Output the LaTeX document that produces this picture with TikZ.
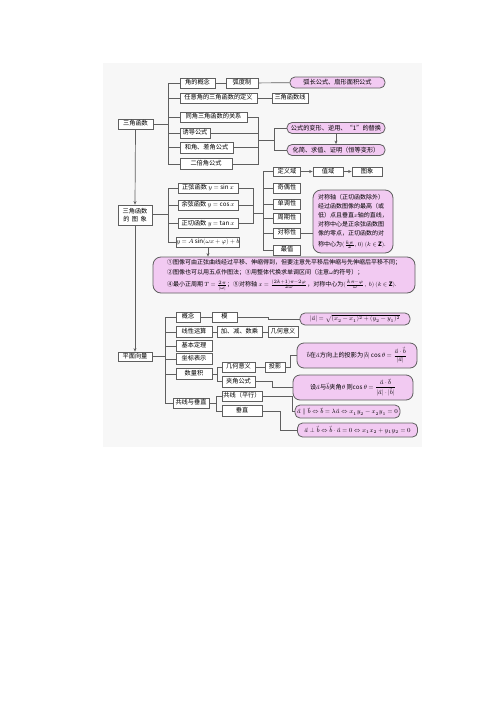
\documentclass[tikz,border=0pt]{standalone}
\usepackage{amsmath}
\usepackage{unicode-math}
\setmainfont{Noto Sans CJK SC}
\setmathfont{Latin Modern Math}
\usetikzlibrary{arrows.meta}
\definecolor{pinkfill}{RGB}{242,202,242}
\definecolor{edge}{RGB}{95,95,95}
\newcommand\fs{\fontsize{6.2}{7.5}\selectfont}
\begin{document}
\begin{tikzpicture}[x=1pt,y=-1pt,
 box/.style={draw=edge,line width=0.8pt,fill=white,inner sep=0pt,font=\fs,minimum height=10pt,text height=4.8pt,text depth=1.2pt},
 pill/.style={draw=edge,line width=0.8pt,fill=pinkfill,rounded corners=5pt,inner sep=0pt,font=\fs,minimum height=11pt},
 ln/.style={draw=edge,line width=0.7pt},
 arr/.style={ln,-{Stealth[length=3.5pt,width=3pt]}}]
\useasboundingbox (0,0) rectangle (500,707);
\fill[black!3] (103,63) rectangle (422,447);

% ---------- group 1 ----------
\node[box,minimum width=35pt] (t1) at (135.5,124) {三角函数};
\node[box,minimum width=35pt] (a1) at (197.5,83) {角的概念};
\node[box,minimum width=32pt] (a2) at (242,83) {弧度制};
\node[pill,minimum width=95pt] (p1) at (337.5,82.5) {弧长公式、扇形面积公式};
\node[box,minimum width=77pt] (a3) at (218.5,98) {任意角的三角函数的定义};
\node[box,minimum width=36pt] (a4) at (290,98) {三角函数线};
\node[box,minimum width=67pt] (a5) at (213.5,117) {同角三角函数的关系};
\node[box,minimum width=30pt] (a6) at (195,133) {诱导公式};
\node[box,minimum width=53pt,minimum height=11pt] (a7) at (206.5,147.5) {和角、差角公式};
\node[box,minimum width=52pt,minimum height=11pt] (a8) at (206,164) {二倍角公式};
\node[pill,minimum width=98pt] (p2) at (336,128) {公式的变形、逆用、“1”的替换};
\node[pill,minimum width=98pt] (p3) at (336,150) {化简、求值、证明（恒等变形）};

\coordinate (br1) at (168,124);
\coordinate (br2) at (258,140);
\coordinate (br3) at (274,140);
\draw[ln] (t1.east) -- (br1);
\foreach \n in {a1,a3,a5,a6,a7,a8} \draw[ln] (\n.west) -| (br1);
\draw[ln] (a1) -- (a2);
\draw[ln] (a2) -- (p1);
\draw[ln] (a3) -- (a4);
\foreach \n in {a5,a6,a7,a8} \draw[ln] (\n.east) -| (br2);
\draw[ln] (br2) -- (br3);
\draw[ln] (p2.west) -| (br3);
\draw[ln] (p3.west) -| (br3);
\draw[arr] (p2) -- (p3);

% ---------- group 2 ----------
\node[box,minimum width=34pt,minimum height=20pt,text height=,text depth=,align=center,font=\fontsize{6.2}{8.5}\selectfont] (t2) at (135,215) {三角函数\\的\,\ 图\,\ 象};
\node[box,minimum width=60pt] (b1) at (208,188) {正弦函数 $y=\sin x$};
\node[box,minimum width=60pt] (b2) at (208,205) {余弦函数 $y=\cos x$};
\node[box,minimum width=60pt] (b3) at (208,223.5) {正切函数 $y=\tan x$};
\node[box,minimum width=60pt] (b4) at (208,242) {$y=A\sin(\omega x+\varphi)+b$};
\node[box,minimum width=27pt,minimum height=9pt] (c1) at (287,171.5) {定义域};
\node[box,minimum width=30pt,minimum height=9pt] (c2) at (328,171.5) {值域};
\node[box,minimum width=30pt,minimum height=9pt] (c3) at (367,171.5) {图象};
\node[box,minimum width=27pt] (c4) at (287,188) {奇偶性};
\node[box,minimum width=27pt] (c5) at (287,204) {单调性};
\node[box,minimum width=27pt] (c6) at (287,218) {周期性};
\node[box,minimum width=27pt] (c7) at (287,233) {对称性};
\node[box,minimum width=27pt] (c8) at (287,250) {最值};
\node[pill,rounded corners=8pt,minimum width=80pt,minimum height=63pt,align=left,font=\fontsize{6}{9}\selectfont] (p4) at (353,221.5)
 {对称轴（正切函数除外）\\经过函数图像的最高（或\\低）点且垂直$x$轴的直线，\\对称中心是正余弦函数图\\像的零点，正切函数的对\\[2.5pt]称中心为$(\frac{k\pi}{2},0)\ (k\in\mathbf{Z})$.};
\node[pill,rounded corners=8pt,minimum width=262pt,minimum height=36pt,align=left,font=\fontsize{6}{10}\selectfont] (p5) at (284,275)
 {①图像可由正弦曲线经过平移、伸缩得到，但要注意先平移后伸缩与先伸缩后平移不同；\\
  ②图像也可以用五点作图法；③用整体代换求单调区间（注意$\omega$的符号）；\\[2pt]
  ④最小正周期 $T=\frac{2\pi}{|\omega|}$；⑤对称轴 $x=\frac{(2k+1)\pi-2\varphi}{2\omega}$，对称中心为$(\frac{k\pi-\varphi}{\omega},\ b)\ (k\in\mathbf{Z})$.};

\coordinate (br4) at (168,214);
\coordinate (br5) at (253,213);
\coordinate (br6) at (263,213);
\draw[ln] (t2.east |- br4) -- (br4);
\foreach \n in {b1,b2,b3,b4} \draw[ln] (\n.west) -| (br4);
\foreach \n in {b1,b2,b3} \draw[ln] (\n.east) -| (br5);
\draw[ln] (br5) -- (br6);
\foreach \n in {c1,c4,c5,c6,c7,c8} \draw[ln] (\n.west) -| (br6);
\draw[arr] (c1) -- (c2);
\draw[arr] (c2) -- (c3);
\draw[ln] (c7.east) -- (c7.east -| p4.west);
\draw[arr] (b4.south) -- (b4.south |- p5.north);

% ---------- group 3 ----------
\node[box,minimum width=34pt,minimum height=9pt] (t3) at (135,356.5) {平面向量};
\node[box,minimum width=24pt] (d1) at (188,317) {概念};
\node[box,minimum width=25pt] (d2) at (224.5,317) {模};
\node[pill,minimum width=110pt,minimum height=12pt] (p6) at (355,319) {$|\vec{a}|=\sqrt{(x_2-x_1)^2+(y_2-y_1)^2}$};
\node[box,minimum width=36pt,minimum height=11pt] (d3) at (194,332) {线性运算};
\node[box,minimum width=45pt,minimum height=11pt] (d4) at (239.5,332) {加、减、数乘};
\node[box,minimum width=30pt,minimum height=11pt] (d5) at (283,332) {几何意义};
\node[box,minimum width=36pt,minimum height=11pt] (d6) at (194,346) {基本定理};
\node[box,minimum width=36pt,minimum height=11pt] (d7) at (194,359) {坐标表示};
\node[box,minimum width=36pt,minimum height=11pt] (d8) at (194,374) {数量积};
\node[box,minimum width=33pt] (d9) at (238.5,367) {几何意义};
\node[box,minimum width=20pt] (d10) at (275,367) {投影};
\node[box,minimum width=33pt,minimum height=11pt] (d11) at (238.5,381.5) {夹角公式};
\node[box,minimum width=36pt] (d12) at (191,403) {共线与垂直};
\node[box,minimum width=40pt] (d13) at (242,396) {共线（平行）};
\node[box,minimum width=40pt,minimum height=11pt] (d14) at (242,411) {垂直};
\node[pill,minimum width=120pt,minimum height=25pt,rounded corners=7pt] (p7) at (357,355.5)
 {$\vec{b}$在$\vec{a}$方向上的投影为$|\vec{b}|\cos\theta=\dfrac{\vec{a}\cdot\vec{b}}{|\vec{a}|}$};
\node[pill,minimum width=120pt,minimum height=25pt,rounded corners=7pt] (p8) at (353,387.5)
 {设$\vec{a}$与$\vec{b}$夹角$\theta$\ 则$\cos\theta=\dfrac{\vec{a}\cdot\vec{b}}{|\vec{a}|\cdot|\vec{b}|}$};
\node[pill,minimum width=105pt,minimum height=13pt] (p9) at (347.5,411.5)
 {$\vec{a}\parallel\vec{b}\Leftrightarrow\vec{b}=\lambda\vec{a}\Leftrightarrow x_1y_2-x_2y_1=0$};
\node[pill,minimum width=120pt,minimum height=14pt] (p10) at (357.5,430)
 {$\vec{a}\perp\vec{b}\Leftrightarrow\vec{b}\cdot\vec{a}=0\Leftrightarrow x_1x_2+y_1y_2=0$};

\coordinate (br7) at (165,356.5);
\coordinate (br8) at (217,374);
\coordinate (br9) at (216,403);
\coordinate (k1) at (268,317);
\coordinate (k2) at (290,367);
\coordinate (k3) at (272,381.5);
\coordinate (k4) at (292,396);
\coordinate (k5) at (280,411);
\draw[ln] (t3.east) -- (br7);
\foreach \n in {d1,d3,d6,d7,d8,d12} \draw[ln] (\n.west) -| (br7);
\draw[ln] (d1) -- (d2);
\draw[ln] (d2.east) -- (k1) |- (p6.west);
\draw[ln] (d3) -- (d4);
\draw[ln] (d4) -- (d5);
\draw[ln] (d8.east) -- (br8);
\draw[ln] (d9.west) -| (br8);
\draw[ln] (d11.west) -| (br8);
\draw[ln] (d9) -- (d10);
\draw[ln] (d10.east) -- (k2) |- (p7.west);
\draw[ln] (d11.east) -- (k3) |- (p8.west);
\draw[ln] (d12.east) -- (br9);
\draw[ln] (d13.west) -| (br9);
\draw[ln] (d14.west) -| (br9);
\draw[ln] (d13.east) -- (k4) |- (p9.west);
\draw[ln] (d14.east) -- (k5) |- (p10.west);

% ---------- main spine ----------
\draw[arr] (t1.south) -- (t2.north);
\draw[arr] (t2.south) -- (t3.north);
\end{tikzpicture}
\end{document}
